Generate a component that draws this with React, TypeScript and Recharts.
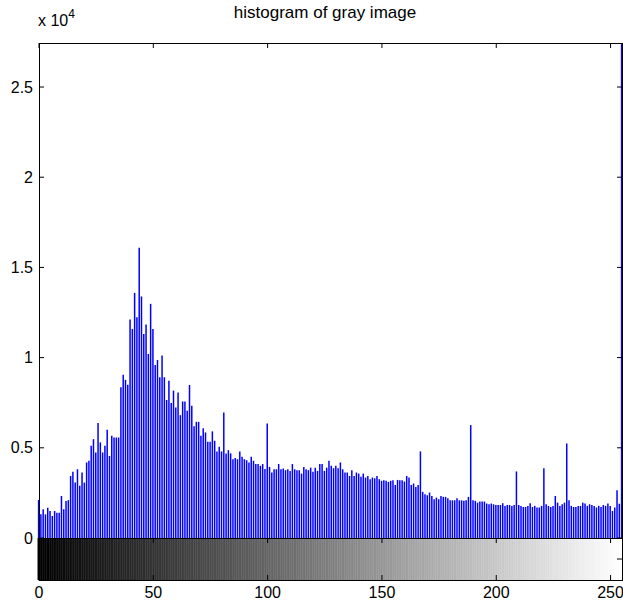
import React from 'react';
import { ComposedChart, BarChart, Bar, XAxis, YAxis, Cell } from 'recharts';

// ---- data ----
const grayLevels: number[] = Array.from({ length: 256 }, (_, i) => i);

const pixelCounts: number[] = [
  2110, 1310, 1590, 1310, 1680, 1500, 1220, 1500, 1400, 1400, 2330, 1590, 2050, 2100, 3440, 3670,
  3070, 3810, 2890, 3630, 3070, 4190, 4280, 5110, 5480, 4740, 6370, 5300, 4740, 5110, 6000, 4550,
  5670, 5570, 5570, 5570, 8350, 9050, 8770, 8500, 12110, 11590, 13590, 12240, 16090, 13390, 11310, 11830,
  10200, 12980, 11590, 9590, 9870, 8910, 10110, 8910, 7650, 8720, 7480, 8170, 7240, 8070, 6810, 7570,
  7570, 7060, 8480, 7330, 6190, 6440, 6440, 5670, 6090, 5850, 5330, 5330, 5910, 5390, 4800, 5060,
  4800, 6960, 4690, 4870, 4690, 4370, 4430, 4370, 4800, 4500, 4370, 4310, 4190, 4500, 4280, 4100,
  4100, 4000, 4100, 3830, 6350, 3940, 3630, 3810, 3810, 4100, 3810, 3850, 3760, 3810, 3720, 4100,
  3810, 3760, 3760, 3570, 3940, 3810, 3760, 3900, 3670, 3900, 3720, 4100, 4100, 3720, 3900, 4280,
  4000, 3870, 4000, 3870, 4190, 3810, 3630, 3630, 3440, 3760, 3440, 3630, 3570, 3390, 3570, 3350,
  3440, 3260, 3350, 3310, 3440, 3260, 3170, 3200, 3170, 3110, 3170, 3200, 2940, 3220, 3200, 3200,
  3130, 3440, 3350, 2940, 3020, 2830, 2940, 4800, 2560, 2430, 2370, 2520, 2330, 2150, 2240, 2150,
  2330, 2280, 2280, 2200, 2090, 2090, 2090, 2200, 2090, 2090, 2060, 2090, 2280, 6260, 2090, 2060,
  1960, 2020, 2020, 2020, 1910, 1870, 1910, 1870, 1830, 1830, 1830, 1930, 1780, 1830, 1830, 1780,
  1830, 3690, 1830, 1780, 1720, 1720, 1780, 1930, 1720, 1780, 1690, 1690, 1780, 3870, 1870, 1780,
  1720, 1780, 2330, 1960, 1780, 1870, 1960, 5240, 2090, 1780, 1720, 1720, 1780, 1780, 1960, 1910,
  1780, 1870, 1830, 1780, 1690, 1780, 1720, 1830, 1780, 1910, 1780, 1500, 1690, 2650, 1900, 27440,
];

const xTicks: number[] = [0, 50, 100, 150, 200, 250];
const xTickLabels: string[] = ['0', '50', '100', '150', '200', '250'];
const yTicks: number[] = [0, 5000, 10000, 15000, 20000, 25000];
const yTickLabels: string[] = ['0', '0.5', '1', '1.5', '2', '2.5'];
const yMax = 27440;
const titleText = 'histogram of gray image';
const scaleText = 'x 10';
const scaleExp = '4';

const histData = grayLevels.map((g, i) => ({ level: g, count: pixelCounts[i] }));
const barData = grayLevels.map((g) => ({ level: g, span: 1 }));

// ---- layout constants ----
const W = 623;
const H = 605;
const PLOT_LEFT = 39;
const PLOT_RIGHT = 622;
const PLOT_TOP = 43;
const HIST_H = 552; // svg extends below the zero line so the "0" label is not clipped
const HIST_PAD = 13; // zero line at HIST_H - HIST_PAD - 1 = 538
const CB_TOP = 538;
const CB_H = 42;
const TICK = 5;
const FONT = '"Liberation Sans", Arial, sans-serif';

const LeftTick = (p: any) => {
  const idx = yTicks.indexOf(p.payload.value);
  return (
    <g>
      <line x1={PLOT_LEFT} x2={PLOT_LEFT + TICK} y1={p.y} y2={p.y} stroke="#000" strokeWidth={1} />
      <line x1={PLOT_RIGHT - TICK} x2={PLOT_RIGHT} y1={p.y} y2={p.y} stroke="#000" strokeWidth={1} />
      <text x={33} y={p.y} textAnchor="end" dominantBaseline="central" fontSize={16} fontFamily={FONT} fill="#000">
        {yTickLabels[idx]}
      </text>
    </g>
  );
};

const HistXTick = (p: any) => (
  <line x1={p.x} x2={p.x} y1={PLOT_TOP} y2={PLOT_TOP + TICK} stroke="#000" strokeWidth={1} />
);

const CbXTick = (p: any) => {
  const idx = xTicks.indexOf(p.payload.value);
  return (
    <g>
      <line x1={p.x} x2={p.x} y1={0} y2={TICK} stroke="#000" strokeWidth={1} />
      <line x1={p.x} x2={p.x} y1={CB_H - TICK} y2={CB_H} stroke="#000" strokeWidth={1} />
      <text x={p.x} y={54} textAnchor="middle" dominantBaseline="central" fontSize={16} fontFamily={FONT} fill="#000">
        {xTickLabels[idx]}
      </text>
    </g>
  );
};

const CbYTick = (p: any) => (
  <line x1={PLOT_RIGHT - TICK} x2={PLOT_RIGHT} y1={p.y} y2={p.y} stroke="#000" strokeWidth={1} />
);

export default function App() {
  return (
    <div style={{ position: 'absolute', left: 0, top: 0, width: W, height: H, background: '#fff', fontFamily: FONT, overflow: 'hidden' }}>
      <div style={{ position: 'absolute', left: 175, top: 3, width: 300, textAlign: 'center', fontSize: 17, color: '#000' }}>
        {titleText}
      </div>
      <div style={{ position: 'absolute', left: 38, top: 12, fontSize: 16, color: '#000', whiteSpace: 'nowrap' }}>
        {scaleText}
        <span style={{ fontSize: 12, position: 'relative', top: -8 }}>{scaleExp}</span>
      </div>

      <div style={{ position: 'absolute', left: 0, top: CB_TOP }}>
        <BarChart width={W} height={H - CB_TOP} data={barData} margin={{ top: 0, right: W - PLOT_RIGHT, bottom: 0, left: 0 }}>
          <XAxis dataKey="level" type="number" domain={[0, 255]} ticks={xTicks} interval={0} height={H - CB_TOP - CB_H} tick={(p: any) => <CbXTick {...p} />} tickLine={false} axisLine={false} />
          <YAxis type="number" domain={[0, 1]} ticks={[0.5]} interval={0} width={PLOT_LEFT} tick={(p: any) => <CbYTick {...p} />} tickLine={false} axisLine={false} />
          <Bar dataKey="span" barSize={3} isAnimationActive={false}>
            {barData.map((d) => (
              <Cell key={d.level} fill={`rgb(${d.level},${d.level},${d.level})`} stroke={`rgb(${d.level},${d.level},${d.level})`} strokeWidth={0.6} />
            ))}
          </Bar>
        </BarChart>
      </div>

      <div style={{ position: 'absolute', left: 0, top: 0 }}>
        <ComposedChart width={W} height={HIST_H} data={histData} margin={{ top: PLOT_TOP, right: W - PLOT_RIGHT, bottom: HIST_PAD, left: 0 }}>
          <XAxis dataKey="level" type="number" domain={[0, 255]} ticks={xTicks} interval={0} height={1} tick={(p: any) => <HistXTick {...p} />} tickLine={false} axisLine={false} />
          <YAxis type="number" domain={[0, yMax]} ticks={yTicks} interval={0} width={PLOT_LEFT} tick={(p: any) => <LeftTick {...p} />} tickLine={false} axisLine={false} allowDataOverflow />
          <Bar dataKey="count" fill="#0000ff" barSize={1.5} isAnimationActive={false} />
        </ComposedChart>
      </div>

      {/* axes frames */}
      <div style={{ position: 'absolute', left: PLOT_LEFT - 0.5, top: PLOT_TOP - 0.5, width: PLOT_RIGHT - PLOT_LEFT + 1, height: CB_TOP - PLOT_TOP + 1, boxSizing: 'border-box', border: '1px solid #000', pointerEvents: 'none' }} />
      <div style={{ position: 'absolute', left: PLOT_LEFT - 0.5, top: CB_TOP - 0.5, width: PLOT_RIGHT - PLOT_LEFT + 1, height: CB_H + 1, boxSizing: 'border-box', border: '1px solid #000', pointerEvents: 'none' }} />
    </div>
  );
}
